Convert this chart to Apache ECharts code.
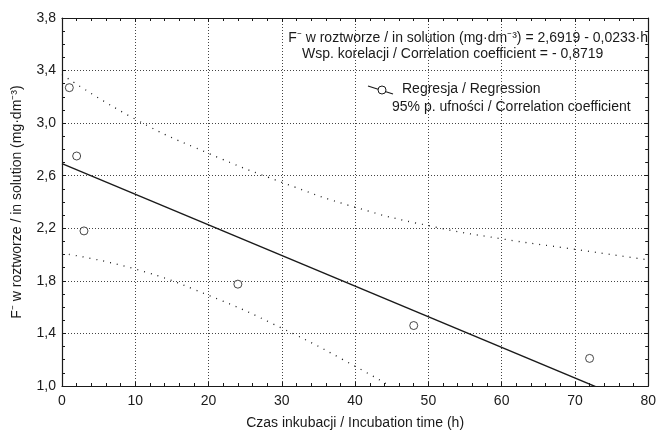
<!DOCTYPE html>
<html>
<head>
<meta charset="utf-8">
<script src="https://cdn.jsdelivr.net/npm/echarts@6/dist/echarts.min.js"></script>
<style>
  html, body { margin: 0; padding: 0; background: #fff; }
  #chart { width: 659px; height: 435px; }
</style>
</head>
<body>
<div id="chart"></div>
<script>
// Measured fluoride concentration vs. incubation time
const hours = [1, 2, 3, 24, 48, 72];
const fluoride = [3.27, 2.75, 2.18, 1.775, 1.46, 1.21];

// Regression line coefficients (as printed in the equation)
const intercept = 2.6919;
const slope = -0.0233;

// 95% confidence band, read along the time axis
const bandHours = [0, 10, 20, 30, 40, 50, 60, 70, 80];
const bandUpper = [3.37, 3.03, 2.77, 2.55, 2.36, 2.22, 2.12, 2.04, 1.96];
const bandLowerHours = [0, 10, 20, 30, 40, 50];
const bandLower = [2.01, 1.89, 1.69, 1.44, 1.15, 0.83];

// Axis ranges
const xRange = [0, 80, 10];
const yRange = [1.0, 3.8, 0.4];

const FONT = '"Liberation Sans", Arial, sans-serif';
const INK = '#1a1a1a';

const chart = echarts.init(document.getElementById('chart'), null, { renderer: 'canvas' });

const regLine = [
  [xRange[0], intercept + slope * xRange[0]],
  [xRange[1], intercept + slope * xRange[1]]
];

const fmtY = v => v.toFixed(1).replace('.', ',');

function xAxisDef(pos, main) {
  return {
    type: 'value', position: pos,
    min: xRange[0], max: xRange[1], interval: xRange[2],
    axisLine: { show: true, onZero: false, lineStyle: { color: INK, width: 1.2 } },
    axisTick: { show: true, inside: true, length: 4, lineStyle: { color: INK } },
    minorTick: { show: true, splitNumber: 5, length: 3, lineStyle: { color: INK } },
    splitLine: { show: main, lineStyle: { color: '#444', type: [1, 2], width: 1 } },
    axisLabel: { show: main, fontFamily: FONT, fontSize: 14, color: INK, margin: 8 },
    name: main ? 'Czas inkubacji / Incubation time (h)' : '',
    nameLocation: 'middle', nameGap: 30,
    nameTextStyle: { fontFamily: FONT, fontSize: 14, color: INK }
  };
}

function yAxisDef(pos, main) {
  return {
    type: 'value', position: pos,
    min: yRange[0], max: yRange[1], interval: yRange[2],
    axisLine: { show: true, onZero: false, lineStyle: { color: INK, width: 1.2 } },
    axisTick: { show: true, inside: true, length: 4, lineStyle: { color: INK } },
    minorTick: { show: true, splitNumber: 4, length: 3, lineStyle: { color: INK } },
    splitLine: { show: main, lineStyle: { color: '#444', type: [1, 2], width: 1 } },
    axisLabel: { show: main, fontFamily: FONT, fontSize: 14, color: INK, margin: 6, formatter: fmtY },
    name: main ? 'F\u207B w roztworze / in solution (mg\u00B7dm\u207B\u00B3)' : '',
    nameLocation: 'middle', nameGap: 38,
    nameTextStyle: { fontFamily: FONT, fontSize: 14, color: INK }
  };
}

const option = {
  backgroundColor: '#fff',
  animation: false,
  grid: { left: 62, top: 18, width: 588, height: 371, containLabel: false },
  xAxis: [xAxisDef('bottom', true), xAxisDef('top', false)],
  yAxis: [yAxisDef('left', true), yAxisDef('right', false)],
  series: [
    {
      name: 'upper', type: 'line', smooth: true, symbol: 'none', clip: true,
      data: bandHours.map((h, i) => [h, bandUpper[i]]),
      lineStyle: { color: INK, width: 1.3, type: [1, 6] }
    },
    {
      name: 'lower', type: 'line', smooth: true, symbol: 'none', clip: true,
      data: bandLowerHours.map((h, i) => [h, bandLower[i]]),
      lineStyle: { color: INK, width: 1.3, type: [1, 6] }
    },
    {
      name: 'Regresja / Regression', type: 'line', symbol: 'none', clip: true,
      data: regLine,
      lineStyle: { color: INK, width: 1.4 }
    },
    {
      name: 'points', type: 'scatter', symbol: 'circle', symbolSize: 8,
      data: hours.map((h, i) => [h, fluoride[i]]),
      itemStyle: { color: '#fff', borderColor: INK, borderWidth: 1 },
      z: 5
    }
  ],
  graphic: [
    {
      type: 'text', right: 11, top: 31,
      style: {
        text: 'F\u207B w roztworze / in solution (mg\u00B7dm\u207B\u00B3) = 2,6919 - 0,0233\u00B7h',
        font: '14px ' + FONT, fill: INK
      }
    },
    {
      type: 'text', left: 302, top: 47,
      style: {
        text: 'Wsp. korelacji / Correlation coefficient = - 0,8719',
        font: '14px ' + FONT, fill: INK
      }
    },
    // legend: regression symbol (line through hollow circle)
    {
      type: 'line', shape: { x1: 368, y1: 86, x2: 393, y2: 94 },
      style: { stroke: INK, lineWidth: 1.2 }
    },
    {
      type: 'circle', shape: { cx: 382, cy: 90, r: 4 },
      style: { fill: '#fff', stroke: INK, lineWidth: 1 }
    },
    {
      type: 'text', left: 402, top: 82,
      style: { text: 'Regresja / Regression', font: '14px ' + FONT, fill: INK }
    },
    {
      type: 'text', left: 392, top: 100,
      style: { text: '95% p. ufności / Correlation coefficient', font: '14px ' + FONT, fill: INK }
    }
  ]
};

chart.setOption(option);
</script>
</body>
</html>
